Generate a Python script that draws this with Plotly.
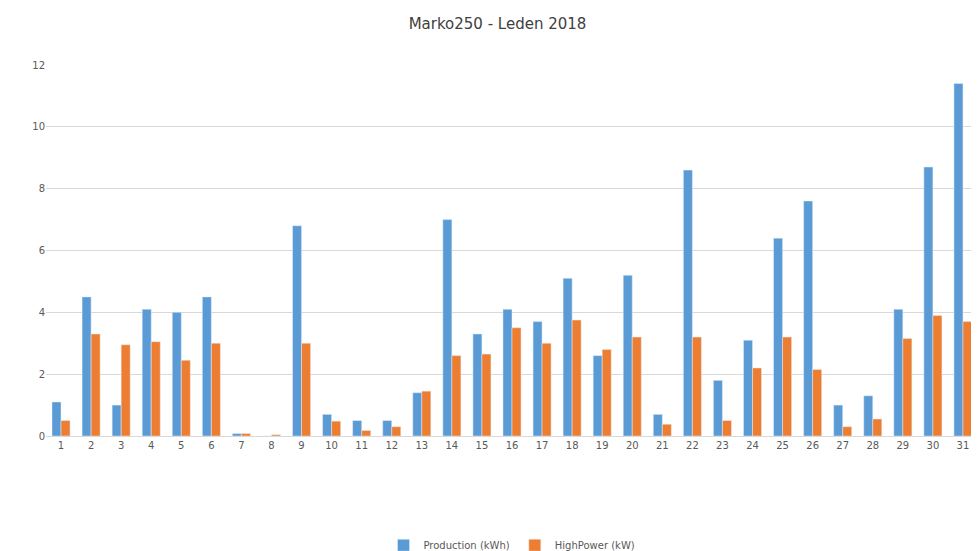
import plotly.graph_objects as go

days = [str(i) for i in range(1, 32)]
production = [1.1, 4.5, 1.0, 4.1, 4.0, 4.5, 0.08, 0.0, 6.8, 0.7, 0.5, 0.5, 1.4, 7.0, 3.3, 4.1,
              3.7, 5.1, 2.6, 5.2, 0.7, 8.6, 1.8, 3.1, 6.4, 7.6, 1.0, 1.3, 4.1, 8.7, 11.4]
highpower = [0.5, 3.3, 2.95, 3.05, 2.45, 3.0, 0.08, 0.04, 3.0, 0.48, 0.18, 0.3, 1.45, 2.6, 2.65, 3.5,
             3.0, 3.75, 2.8, 3.2, 0.38, 3.2, 0.5, 2.2, 3.2, 2.15, 0.3, 0.55, 3.15, 3.9, 3.7]

fig = go.Figure()
fig.add_trace(go.Bar(x=days, y=production, name="Production (kWh)", marker_color="#5b9bd5"))
fig.add_trace(go.Bar(x=days, y=highpower, name="HighPower (kW)", marker_color="#ed7d31"))

fig.update_layout(
    width=979, height=551,
    paper_bgcolor="white", plot_bgcolor="white",
    font=dict(family="DejaVu Sans", size=10, color="#595959"),
    title=dict(text="Marko250 - Leden 2018", x=0.5, y=0.972, yanchor="middle",
               font=dict(size=15, color="#404040")),
    margin=dict(l=38, r=9, t=57, b=123, autoexpand=False),
    bargap=0.4, bargroupgap=0.0,
    xaxis=dict(showline=True, linecolor="#d9d9d9", ticks="", tickfont=dict(size=10)),
    yaxis=dict(range=[0, 12], dtick=2, gridcolor="#d9d9d9", zeroline=False, tickfont=dict(size=10)),
    legend=dict(orientation="h", x=0.5, xanchor="center", yref="container", y=0.025,
                yanchor="middle", font=dict(size=10)),
)
fig.write_html("out.html")
